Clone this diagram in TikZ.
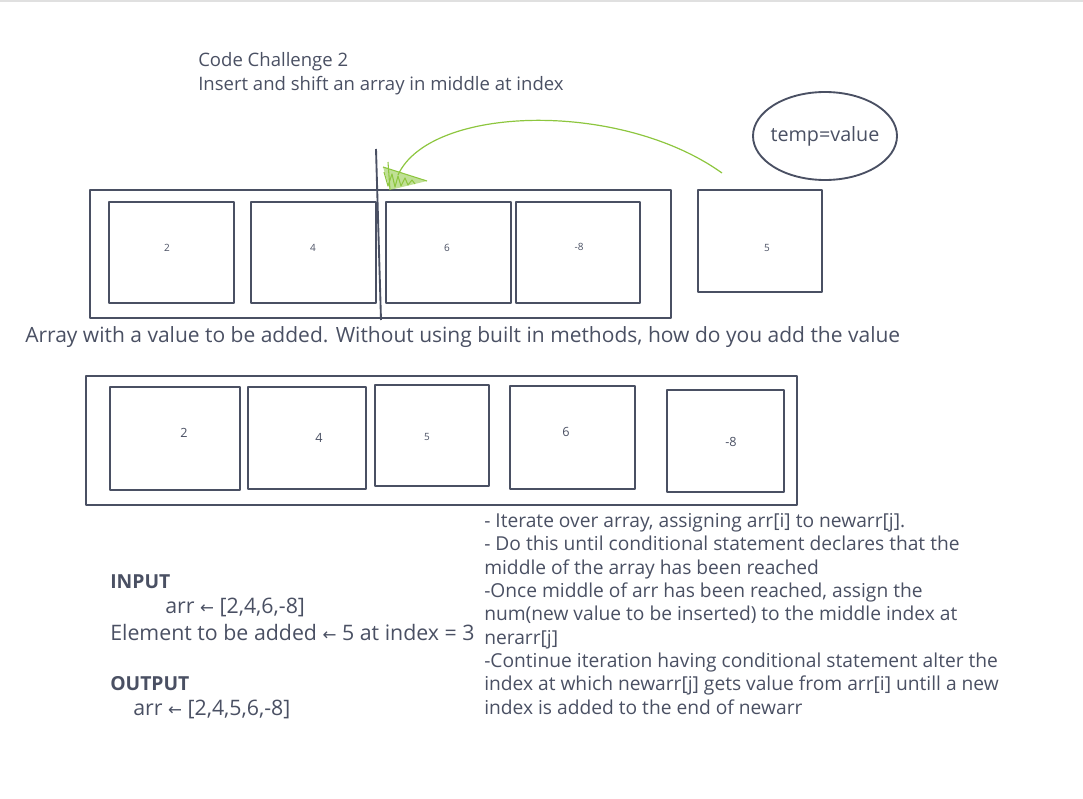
\documentclass[tikz,border=0pt]{standalone}
\usepackage{fontspec}
\setmainfont{Open Sans}
\newfontfamily\arrowfont{DejaVu Sans}
\usetikzlibrary{positioning, shapes.geometric, fit}
\definecolor{ink}{HTML}{4A5063}
\definecolor{leaf}{HTML}{8DC63F}
\newcommand\getsarrow{{\arrowfont\fontsize{12.5}{14}\selectfont ←}}

\begin{document}
\begin{tikzpicture}[x=0.75pt,y=-0.75pt,line join=round,
  frame/.style={draw=ink, line width=1.4pt, inner sep=0pt},
  cell/.style={draw=ink, line width=1.4pt, inner sep=0pt},
  num/.style={text=ink, inner sep=0pt, font=\fontsize{7.5}{9}\selectfont},
  bignum/.style={text=ink, inner sep=0pt, font=\fontsize{9.5}{11}\selectfont},
  txt/.style={text=ink, anchor=west, inner sep=0pt, font=\fontsize{14.4}{17.5}\selectfont},
  iotxt/.style={txt, font=\fontsize{16}{18}\selectfont},
  head/.style={txt, font=\fontsize{14.5}{17}\selectfont\bfseries}]
\useasboundingbox (0,0) rectangle (1083,799);
\draw[black!12, line width=0.8pt] (0,1) -- (1083,1);

% title
\node[txt, align=left, font=\fontsize{13.9}{18}\selectfont] (title) at (198,74)
  {Code Challenge 2\\Insert and shift an array in middle at index};

% temp variable
\node[draw=ink, line width=1.4pt, ellipse, inner sep=0pt, minimum width=108pt, minimum height=66pt,
  label={[text=ink, font=\fontsize{14.8}{16}\selectfont]center:temp=value}] (temp) at (825,136) {};

% array before insertion
\node[frame, fit={(90,190) (671,318)}] (arr) {};
\node[cell, minimum width=93.75pt, minimum height=75.75pt] (a1) at (171.5,252.5) {};
\node[cell, minimum width=93.75pt, minimum height=75.75pt] (a2) at (313.5,252.5) {};
\node[cell, minimum width=93.75pt, minimum height=75.75pt] (a3) at (448.5,252.5) {};
\node[cell, minimum width=93pt, minimum height=75.75pt] (a4) at (578,252.5) {};
\node[cell, minimum width=93pt, minimum height=76.5pt] (val) at (760,241) {};
\node[num] (n1) at (167,248) {2};
\node[num] (n2) at (313,248) {4};
\node[num] (n3) at (447,248) {6};
\node[num] (n4) at (579,247) {-8};
\node[num] (n5) at (767,248) {5};

% split line and move of the value
\coordinate (cuttop) at (376,149);
\coordinate (cutbot) at (381,320);
\draw[ink, line width=1.4pt] (cuttop) -- (cutbot);
\coordinate (tail) at (722,173);
\coordinate (tip) at (398,175);
\draw[leaf, line width=0.9pt] (tail) .. controls (620,100) and (430,105) .. (tip);
\fill[leaf, opacity=0.55] (383,167) -- (390,190) -- (427,181) -- cycle;
\draw[leaf, line width=0.8pt] (388,162) -- (390,190) (383,167) -- (427,181)
  (384,172) -- (388,186) -- (392,174) -- (395,187) -- (398,176) -- (401,186)
  -- (405,178) -- (408,185) -- (412,180) -- (415,184);

\node[txt, font=\fontsize{15.75}{17}\selectfont] (note) at (25,337)
  {Array with a value to be added. Without using built in methods, how do you add the value};

% array after insertion
\node[frame, fit={(86,376) (797,505)}] (newarr) {};
\node[cell, minimum width=97.5pt, minimum height=77.25pt] (b1) at (175,438.5) {};
\node[cell, minimum width=88.5pt, minimum height=76.5pt] (b2) at (307,438) {};
\node[cell, minimum width=85.5pt, minimum height=75.75pt] (b3) at (432,435.5) {};
\node[cell, minimum width=93.75pt, minimum height=77.25pt] (b4) at (572.5,437.5) {};
\node[cell, minimum width=87.75pt, minimum height=76.5pt] (b5) at (725.5,441) {};
\node[bignum] (m1) at (184,433) {2};
\node[bignum] (m2) at (319,438) {4};
\node[num] (m3) at (427,437) {5};
\node[bignum] (m4) at (566,432) {6};
\node[bignum] (m5) at (731,442) {-8};

% input / output
\node[head] (input) at (110,582) {INPUT};
\node[iotxt] (inarr) at (165,607) {arr \getsarrow{} [2,4,6,-8]};
\node[iotxt] (elem) at (110,632) {Element to be added \getsarrow{} 5 at index = 3};
\node[head] (output) at (110,684) {OUTPUT};
\node[iotxt] (outarr) at (133,709) {arr \getsarrow{} [2,4,5,6,-8]};

% steps
\node[txt, anchor=north west, align=left] (steps) at (484,513)
  {- Iterate over array, assigning arr[i] to newarr[j].\\
   - Do this until conditional statement declares that the\\
   middle of the array has been reached\\
   -Once middle of arr has been reached, assign the\\
   num(new value to be inserted) to the middle index at\\
   nerarr[j]\\
   -Continue iteration having conditional statement alter the\\
   index at which newarr[j] gets value from arr[i] untill a new\\
   index is added to the end of newarr};
\end{tikzpicture}
\end{document}
